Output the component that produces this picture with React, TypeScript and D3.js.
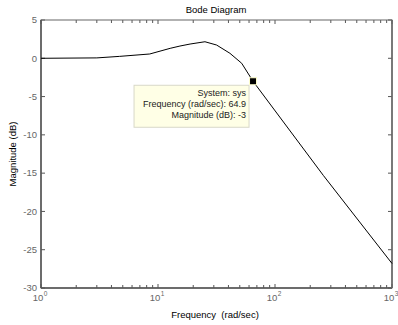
import React from "react";
import { scaleLog, scaleLinear, line, curveLinear } from "d3";

// magnitude response
const freq = [1, 3, 4.7, 8.5, 12.7, 15.4, 18.8, 25.2, 31.7, 41.2, 51.9, 64.9, 259, 1000];
const magDb = [0, 0.05, 0.25, 0.56, 1.3, 1.6, 1.86, 2.16, 1.73, 0.65, -0.65, -3, -15.3, -26.8];

const yTicks = [5, 0, -5, -10, -15, -20, -25, -30];
const decades = [0, 1, 2, 3];
const minorMult = [2, 3, 4, 5, 6, 7, 8, 9];

const tipSystem = "sys";
const tipFreq = 64.9;
const tipMag = -3;

const W = 398;
const H = 325;
const left = 41;
const right = 392;
const top = 20;
const bottom = 288;
const font = "'Liberation Sans', Arial, Helvetica, sans-serif";

const App = () => {
  const x = scaleLog().domain([1, 1000]).range([left, right]);
  const y = scaleLinear().domain([-30, 5]).range([bottom, top]);

  const path = line<number>()
    .x((d, i) => x(freq[i]))
    .y((d) => y(d))
    .curve(curveLinear)(magDb);

  const minors: number[] = [];
  decades.slice(0, 3).forEach((d) => {
    minorMult.forEach((m) => minors.push(m * Math.pow(10, d)));
  });

  const mx = x(tipFreq);
  const my = y(tipMag);
  const boxR = mx - 4;
  const boxT = my + 4;
  const boxW = 115;
  const boxH = 42;

  return (
    <svg
      width={W}
      height={H}
      style={{ position: "absolute", left: 0, top: 0, background: "#fff" }}
      fontFamily={font}
    >
      <rect x={0} y={0} width={W} height={H} fill="#fff" />
      <text x={216} y={12.5} fontSize={9.5} textAnchor="middle" fill="#000">
        Bode Diagram
      </text>

      {/* ticks */}
      {yTicks.map((t) => (
        <g key={"y" + t}>
          <line x1={left} x2={left + 4} y1={y(t)} y2={y(t)} stroke="#555" />
          <line x1={right} x2={right - 4} y1={y(t)} y2={y(t)} stroke="#555" />
          <text
            x={left - 4}
            y={y(t)}
            dy="0.35em"
            fontSize={9.5}
            textAnchor="end"
            fill="#666"
          >
            {t}
          </text>
        </g>
      ))}
      {minors.map((f) => (
        <g key={"m" + f}>
          <line x1={x(f)} x2={x(f)} y1={bottom} y2={bottom - 3} stroke="#555" />
          <line x1={x(f)} x2={x(f)} y1={top} y2={top + 3} stroke="#555" />
        </g>
      ))}
      {decades.map((d) => {
        const xx = x(Math.pow(10, d));
        return (
          <g key={"d" + d}>
            <line x1={xx} x2={xx} y1={bottom} y2={bottom - 4} stroke="#555" />
            <line x1={xx} x2={xx} y1={top} y2={top + 4} stroke="#555" />
            <text x={xx - 1} y={300.5} fontSize={9.5} textAnchor="middle" fill="#666">
              10
              <tspan fontSize={6.5} dx={0.5} dy={-4.5}>
                {d}
              </tspan>
            </text>
          </g>
        );
      })}

      {/* box */}
      <rect
        x={left}
        y={top}
        width={right - left}
        height={bottom - top}
        fill="none"
        stroke="#666"
        strokeWidth={1}
      />
      <line x1={left} x2={left} y1={top} y2={bottom} stroke="#555" strokeWidth={1.5} />
      <line x1={left} x2={right} y1={bottom} y2={bottom} stroke="#555" strokeWidth={1.5} />
      <line x1={right} x2={right} y1={top} y2={bottom} stroke="#666" strokeWidth={1.5} />

      <path d={path || ""} fill="none" stroke="#000" strokeWidth={1} />

      {/* data tip */}
      <rect
        x={boxR - boxW}
        y={boxT}
        width={boxW}
        height={boxH}
        fill="#ffffe6"
        stroke="#d8d8c8"
        strokeWidth={1}
      />
      <g fontSize={9} textAnchor="end" fill="#222">
        <text x={boxR - 3} y={boxT + 11}>{"System: " + tipSystem}</text>
        <text x={boxR - 3} y={boxT + 22}>{"Frequency (rad/sec): " + tipFreq}</text>
        <text x={boxR - 3} y={boxT + 33}>{"Magnitude (dB): " + tipMag}</text>
      </g>
      <rect x={mx - 3.5} y={my - 3.5} width={7} height={7} fill="#000" stroke="#ffffcc" strokeWidth={1} />

      <text
        x={215}
        y={318}
        fontSize={9.5}
        textAnchor="middle"
        fill="#000"
        style={{ whiteSpace: "pre" }}
      >
        {"Frequency  (rad/sec)"}
      </text>
      <text
        transform={`translate(15.5,${(top + bottom) / 2}) rotate(-90)`}
        fontSize={9.5}
        textAnchor="middle"
        fill="#000"
      >
        Magnitude (dB)
      </text>
    </svg>
  );
};

export default App;
